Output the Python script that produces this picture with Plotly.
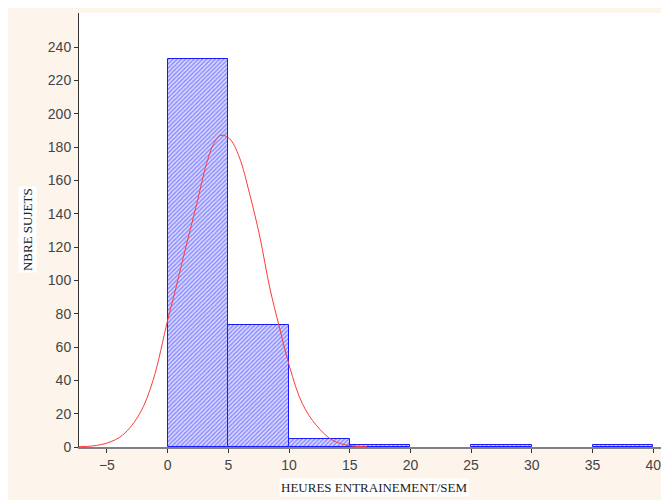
import plotly.graph_objects as go

# Histogram bins (left edge, width 5) and counts
bin_starts = [0, 5, 10, 15, 25, 35]
bin_counts = [233, 73, 5, 1, 1, 1]
bin_width = 5

# Fitted normal curve
curve_x = [-7.3, -6.2, -4.9, -3.7, -2.3, -1.2, 0.0, 0.7, 1.5, 2.4, 3.2, 3.8, 4.4, 5.1,
           5.9, 6.75, 7.6, 8.4, 9.2, 10.05, 11.1, 12.25, 13.6, 15.0, 16.4]
curve_y = [0.2, 0.6, 2.6, 7.2, 20, 40, 76, 96, 120, 146, 170, 182, 187, 185,
           174, 152, 126, 96, 72, 48, 26, 13, 4, 0.8, 0.2]

x_ticks = [-5, 0, 5, 10, 15, 20, 25, 30, 35, 40]
y_ticks = [0, 20, 40, 60, 80, 100, 120, 140, 160, 180, 200, 220, 240]

fig = go.Figure()
fig.add_trace(go.Bar(
    x=bin_starts, y=bin_counts, width=bin_width, offset=0,
    marker=dict(color="#7070ff", line=dict(color="#1a1aff", width=1),
                pattern=dict(shape="/", fgcolor="#3a3aff", bgcolor="#dedeff",
                             size=3, solidity=0.5)),
    showlegend=False,
))
fig.add_trace(go.Scatter(
    x=curve_x, y=curve_y, mode="lines", line=dict(color="#ff3a3a", width=1, shape="spline"),
    showlegend=False,
))

fig.update_layout(
    width=661, height=492,
    margin=dict(l=71, r=0, t=5, b=53),
    paper_bgcolor="#fdf5ec", plot_bgcolor="white",
    bargap=0,
    font=dict(family="Liberation Sans, Arial, sans-serif", size=14, color="#444"),
    xaxis=dict(range=[-7.3, 41.3], tickvals=x_ticks, ticks="outside", ticklen=4,
               tickcolor="#333", showgrid=False, zeroline=False, showline=True,
               linecolor="#808080", linewidth=2, tickfont=dict(size=14)),
    yaxis=dict(range=[0, 260.4], tickvals=y_ticks, ticks="outside", ticklen=4,
               tickcolor="#333", showgrid=False, zeroline=False, showline=True,
               linecolor="#333", linewidth=1, tickfont=dict(size=14)),
    annotations=[
        dict(text="HEURES ENTRAINEMENT/SEM", xref="paper", yref="paper", x=0.5, y=-0.094,
             xanchor="center", yanchor="middle", showarrow=False, bgcolor="white",
             font=dict(family="Liberation Serif, Times New Roman, serif", size=13, color="#222")),
        dict(text="NBRE SUJETS", xref="paper", yref="paper", x=-0.088, y=0.5,
             xanchor="center", yanchor="middle", showarrow=False, textangle=-90, bgcolor="white",
             font=dict(family="Liberation Serif, Times New Roman, serif", size=13, color="#222")),
    ],
)

fig.write_html("out.html")
